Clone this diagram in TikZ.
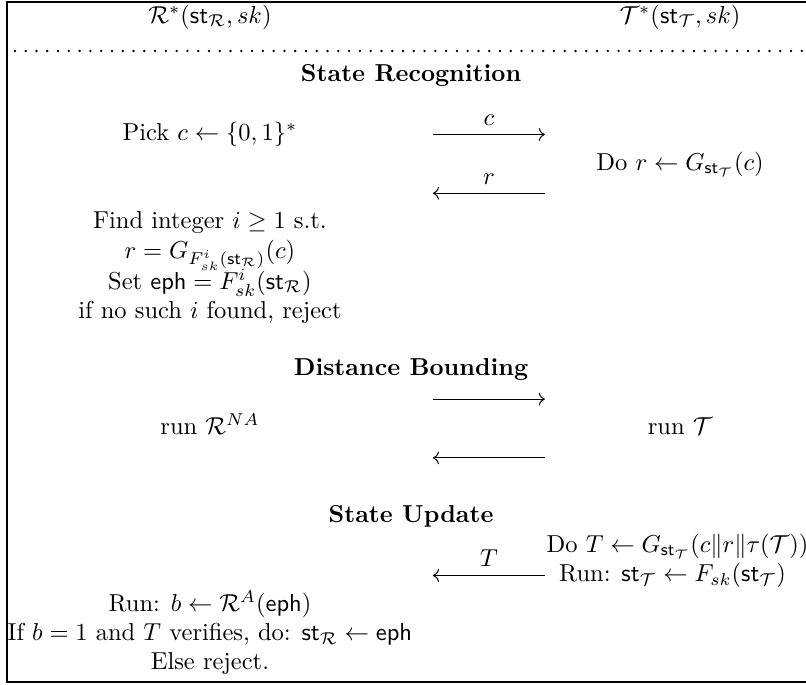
\documentclass[tikz,border=0pt]{standalone}
\usetikzlibrary{arrows.meta}
\begin{document}
\begin{tikzpicture}[x=1pt,y=1pt,
   txt/.style={anchor=base},
   hd/.style={anchor=base,font=\bfseries},
   msg/.style={->,>=To},
   dots/.style={line width=1.1pt,line cap=round,dash pattern=on 0pt off 4.4pt},
   frm/.style={line width=0.5pt}]
\useasboundingbox (0,0) rectangle (329,-279.2);
\clip (0,0) rectangle (329,-279.2);
\draw[frm] (2.9,-0.8) rectangle (345,-278.4);
% Kopf
\node[txt] (R) at (85.7,-9.4) {$\mathcal{R}^*(\mathsf{st}_{\mathcal{R}}, sk)$};
\node[txt] (T) at (277.6,-9.4) {$\mathcal{T}^*(\mathsf{st}_{\mathcal{T}}, sk)$};
\coordinate (dl) at (6.1,-20.8);
\coordinate (dr) at (335,-20.8);
\draw[dots] (dl) -- (dr);
% State Recognition
\node[hd] (sr) at (167.8,-33.4) {State Recognition};
\node[txt] (pick) at (85.7,-57.4) {Pick $c \leftarrow \{0,1\}^*$};
\coordinate (c1) at (176.7,-54.9);
\coordinate (c2) at (222.4,-54.9);
\draw[msg] (c1) -- node[above]{$c$} (c2);
\node[txt] (dor) at (277.6,-69.4) {Do $r \leftarrow G_{\mathsf{st}_{\mathcal{T}}}(c)$};
\coordinate (r1) at (222.4,-78.9);
\coordinate (r2) at (176.7,-78.9);
\draw[msg] (r1) -- node[above]{$r$} (r2);
\node[txt] (find) at (85.7,-93.4) {Find integer $i \geq 1$ s.t.};
\node[txt] (eq) at (85.7,-105.6) {$r = G_{F^i_{sk}(\mathsf{st}_{\mathcal{R}})}(c)$};
\node[txt] (set) at (85.7,-118.0) {Set $\mathsf{eph} = F^i_{sk}(\mathsf{st}_{\mathcal{R}})$};
\node[txt] (rej) at (85.7,-130.0) {if no such $i$ found, reject};
% Distance Bounding
\node[hd] (db) at (167.8,-153.4) {Distance Bounding};
\coordinate (d1) at (176.7,-162.9);
\coordinate (d2) at (222.4,-162.9);
\draw[msg] (d1) -- (d2);
\node[txt] (runr) at (85.7,-177.4) {run $\mathcal{R}^{NA}$};
\node[txt] (runt) at (277.6,-177.4) {run $\mathcal{T}$};
\coordinate (d3) at (222.4,-186.9);
\coordinate (d4) at (176.7,-186.9);
\draw[msg] (d3) -- (d4);
% State Update
\node[hd] (su) at (167.8,-213.4) {State Update};
\node[txt,anchor=base west] (doT) at (219.6,-225.4) {Do $T \leftarrow G_{\mathsf{st}_{\mathcal{T}}}(c\|r\|\tau(\mathcal{T}))$};
\node[txt] (upd) at (274.5,-237.4) {Run: $\mathsf{st}_{\mathcal{T}} \leftarrow F_{sk}(\mathsf{st}_{\mathcal{T}})$};
\coordinate (t1) at (222.4,-234.9);
\coordinate (t2) at (176.7,-234.9);
\draw[msg] (t1) -- node[above]{$T$} (t2);
\node[txt] (runb) at (85.7,-249.4) {Run: $b \leftarrow \mathcal{R}^A(\mathsf{eph})$};
\node[txt] (ifb) at (85.7,-261.4) {If $b = 1$ and $T$ verifies, do: $\mathsf{st}_{\mathcal{R}} \leftarrow \mathsf{eph}$};
\node[txt] (els) at (85.7,-273.4) {Else reject.};
\end{tikzpicture}
\end{document}
